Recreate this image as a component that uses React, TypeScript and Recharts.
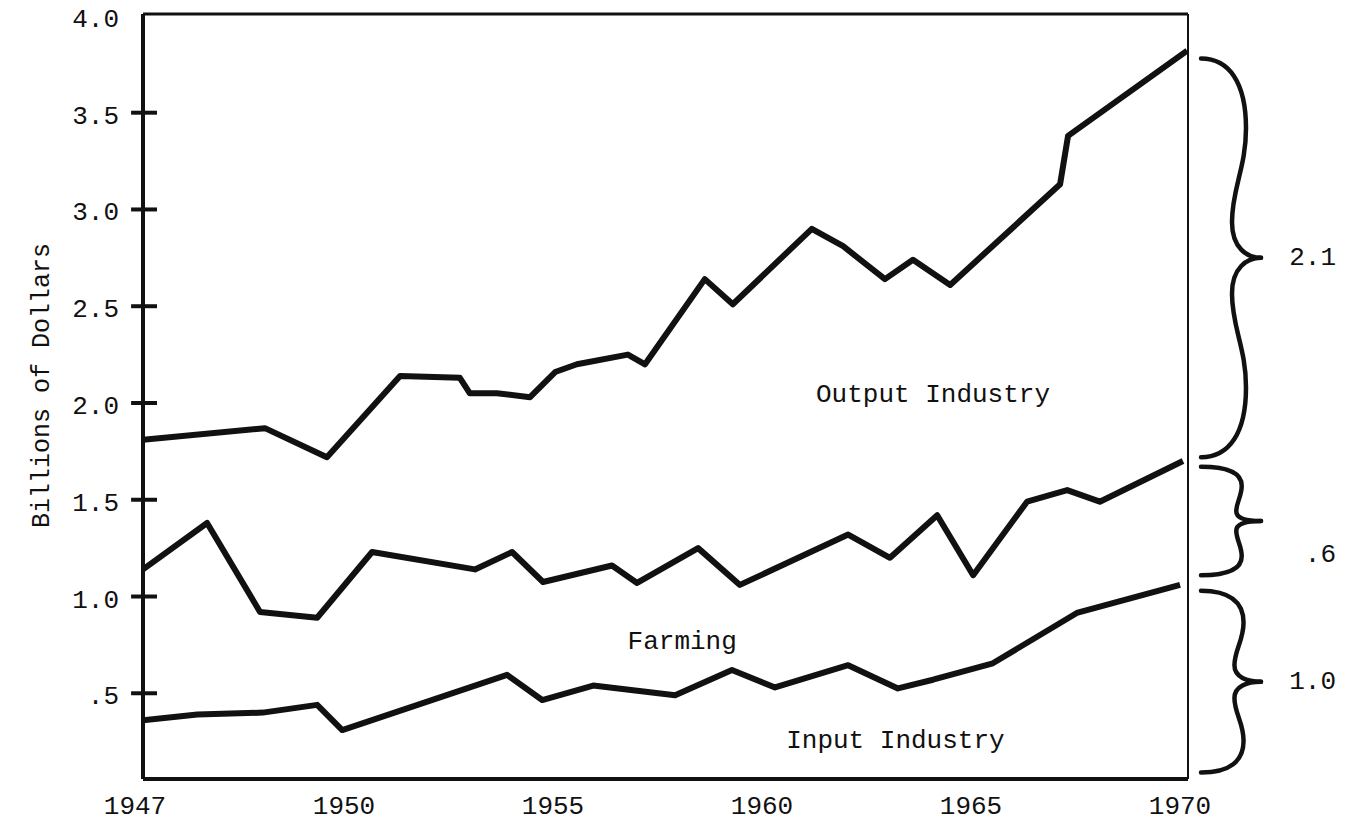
import React from "react";
import {
  LineChart,
  Line,
  XAxis,
  YAxis,
  ReferenceLine,
  ReferenceArea,
  ReferenceDot,
} from "recharts";

// axis labels as printed
const tickYears = [1947, 1950, 1955, 1960, 1965, 1970];
const valueTicks = [0.5, 1.0, 1.5, 2.0, 2.5, 3.0, 3.5, 4.0];

// billions of dollars
const outputYears = [1947, 1948.75, 1949.64, 1951.15, 1952.58, 1952.82, 1953.47, 1954.26, 1954.86, 1955.38, 1956.6, 1957.01, 1958.44, 1959.11, 1961.0, 1961.75, 1962.75, 1963.42, 1964.31, 1966.94, 1967.13, 1969.98];
const outputValues = [1.81, 1.87, 1.72, 2.14, 2.13, 2.05, 2.05, 2.03, 2.16, 2.2, 2.25, 2.2, 2.64, 2.51, 2.9, 2.81, 2.64, 2.74, 2.61, 3.13, 3.38, 3.82];

const farmingYears = [1947, 1947.92, 1948.68, 1949.5, 1950.48, 1952.94, 1953.83, 1954.57, 1956.22, 1956.82, 1958.28, 1959.28, 1961.87, 1962.87, 1964.0, 1964.86, 1966.15, 1967.11, 1967.89, 1969.88];
const farmingValues = [1.14, 1.38, 0.92, 0.89, 1.23, 1.14, 1.23, 1.075, 1.16, 1.07, 1.25, 1.06, 1.32, 1.2, 1.42, 1.11, 1.49, 1.55, 1.49, 1.7];

const inputYears = [1947, 1947.78, 1948.72, 1949.5, 1949.86, 1953.71, 1954.55, 1955.77, 1957.73, 1959.09, 1960.12, 1961.87, 1963.06, 1963.9, 1965.33, 1967.34, 1969.81];
const inputValues = [0.36, 0.39, 0.4, 0.44, 0.31, 0.595, 0.465, 0.54, 0.49, 0.62, 0.53, 0.645, 0.525, 0.57, 0.655, 0.915, 1.06];

// braces on the right: span of each band at 1970
const braceFrom = [1.72, 1.11, 0.09];
const braceTo = [3.78, 1.67, 1.03];
const braceLabels = ["2.1", ".6", "1.0"];
const braceLabelDrop = [0, 34, 0];

// names written inside the plot
const bandNames = ["Output Industry", "Farming", "Input Industry"];
const bandNameYears = [1963.9, 1957.9, 1963.0];
const bandNameValues = [2.04, 0.765, 0.253];

// the printed axis gives 1947-50 the same width as each later 5-year step
const pos = (year: number) =>
  year <= 1950 ? (year - 1947) / 3 : 1 + (year - 1950) / 5;

const toPoints = (years: number[], values: number[]) =>
  years.map((y, i) => ({ x: pos(y), v: values[i] }));

const outputData = toPoints(outputYears, outputValues);
const farmingData = toPoints(farmingYears, farmingValues);
const inputData = toPoints(inputYears, inputValues);

const INK = "#111";
const FONT = "'Liberation Mono', 'DejaVu Sans Mono', monospace";

const YTick = (props: any) => {
  const x = Number(props.x);
  const y = Number(props.y);
  const v = Number(props.payload.value);
  return (
    <text x={x} y={y + 4} textAnchor="end" dominantBaseline="central" fontFamily={FONT} fontSize={26} fill={INK}>
      {v < 1 ? "." + Math.round(v * 10) : v.toFixed(1)}
    </text>
  );
};

const XTick = (props: any) => {
  const x = Number(props.x);
  const y = Number(props.y);
  const i = Math.round(props.payload.value);
  return (
    <text x={x - 8} y={y + 28} textAnchor="middle" dominantBaseline="central" fontFamily={FONT} fontSize={26} fill={INK}>
      {tickYears[i]}
    </text>
  );
};

const YTitle = (props: any) => {
  const vb = props.viewBox || { x: 0, y: 14, width: 143, height: 765 };
  const cx = vb.x + 42;
  const cy = vb.y + vb.height / 2 - 11;
  return (
    <text x={cx} y={cy} transform={`rotate(-90 ${cx} ${cy})`} textAnchor="middle" dominantBaseline="central" fontFamily={FONT} fontSize={25} fill={INK}>
      Billions of Dollars
    </text>
  );
};

// one half of a curly brace, from its end to its point
const braceHalf = (x0: number, end: number, mid: number, s: number) => {
  const hh = Math.abs(mid - end);
  const w = Math.min(7, hh * 0.05);
  const ax = x0 + 13;
  const b = x0 + 51;
  const px = x0 + 73;
  return [
    `M ${ax} ${end}`,
    `C ${ax + 28} ${end} ${b + w} ${end + s * 0.12 * hh} ${b + w} ${end + s * 0.35 * hh}`,
    `C ${b + w} ${end + s * 0.55 * hh} ${b - w} ${end + s * 0.65 * hh} ${b - w} ${end + s * 0.82 * hh}`,
    `C ${b - w} ${end + s * 0.95 * hh} ${b + 8} ${mid} ${px} ${mid}`,
  ].join(" ");
};

const makeBrace = (label: string, drop: number) => (props: any) => {
  const { x, y, width, height } = props;
  const x0 = x + width;
  const top = y;
  const bot = y + height;
  const mid = (top + bot) / 2;
  return (
    <g>
      <path d={braceHalf(x0, top, mid, 1)} fill="none" stroke={INK} strokeWidth={4.5} strokeLinecap="round" />
      <path d={braceHalf(x0, bot, mid, -1)} fill="none" stroke={INK} strokeWidth={4.5} strokeLinecap="round" />
      <text x={x0 + 148} y={mid + drop} textAnchor="end" dominantBaseline="central" fontFamily={FONT} fontSize={26} fill={INK}>
        {label}
      </text>
    </g>
  );
};

const makeName = (name: string) => (props: any) => (
  <text x={props.cx} y={props.cy} textAnchor="middle" dominantBaseline="central" fontFamily={FONT} fontSize={26} fill={INK}>
    {name}
  </text>
);

export default function App() {
  return (
    <div style={{ position: "absolute", left: 0, top: 0, width: 1348, height: 830, background: "#fff" }}>
      <LineChart width={1348} height={830} margin={{ top: 14, right: 160, bottom: 0, left: 0 }}>
        <XAxis
          type="number"
          dataKey="x"
          domain={[0, 5]}
          ticks={tickYears.map(pos)}
          allowDataOverflow
          height={51}
          tickSize={0}
          tickMargin={0}
          tickLine={false}
          tick={<XTick />}
          axisLine={{ stroke: INK, strokeWidth: 4 }}
        />
        <YAxis
          type="number"
          dataKey="v"
          domain={[0.057, 4.01]}
          ticks={valueTicks}
          allowDataOverflow
          width={143}
          tickSize={12}
          tickMargin={12}
          tickLine={false}
          tick={<YTick />}
          axisLine={{ stroke: INK, strokeWidth: 4 }}
          label={YTitle}
        />
        <ReferenceLine y={4.01} stroke={INK} strokeWidth={3} />
        <ReferenceLine x={5} stroke={INK} strokeWidth={2} />
        {valueTicks
          .filter((v) => v < 4)
          .map((v) => (
            <ReferenceLine
              key={v}
              segment={[{ x: -0.057, y: v }, { x: 0.067, y: v }]}
              ifOverflow="visible"
              stroke={INK}
              strokeWidth={4}
            />
          ))}
        <Line data={outputData} dataKey="v" stroke={INK} strokeWidth={6} strokeLinejoin="round" dot={false} isAnimationActive={false} />
        <Line data={farmingData} dataKey="v" stroke={INK} strokeWidth={6} strokeLinejoin="round" dot={false} isAnimationActive={false} />
        <Line data={inputData} dataKey="v" stroke={INK} strokeWidth={6} strokeLinejoin="round" dot={false} isAnimationActive={false} />
        {braceLabels.map((label, i) => (
          <ReferenceArea
            key={label}
            y1={braceFrom[i]}
            y2={braceTo[i]}
            shape={makeBrace(label, braceLabelDrop[i])}
          />
        ))}
        {bandNames.map((name, i) => (
          <ReferenceDot
            key={name}
            x={pos(bandNameYears[i])}
            y={bandNameValues[i]}
            r={0}
            shape={makeName(name)}
          />
        ))}
      </LineChart>
    </div>
  );
}
